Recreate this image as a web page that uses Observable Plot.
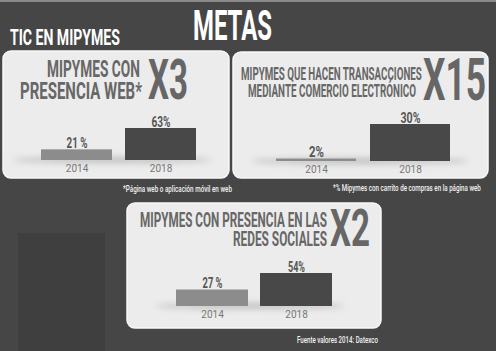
<!DOCTYPE html>
<html>
<head>
<meta charset="utf-8">
<script src="https://cdn.jsdelivr.net/npm/d3@7"></script>
<script src="https://cdn.jsdelivr.net/npm/@observablehq/plot@0.6"></script>
<style>
  html, body { margin: 0; padding: 0; background: #464646; }
  #root { position: relative; width: 496px; height: 351px; overflow: hidden; background: #464646; }
  #root > svg.bg { position: absolute; left: 0; top: 0; }
  .chart { position: absolute; }
</style>
</head>
<body>
<div id="root"></div>
<script>
// ---- data ----
const years = ["2014", "2018"];
const webValues = [21, 63];
const webLabels = ["21 %", "63%"];
const ecomValues = [2, 30];
const ecomLabels = ["2%", "30%"];
const socialValues = [27, 54];
const socialLabels = ["27 %", "54%"];

const headerTitle = "METAS";
const sectionTitle = "TIC EN MIPYMES";
const webTitle = ["MIPYMES CON", "PRESENCIA WEB*"];
const webFactor = "X3";
const ecomTitle = ["MIPYMES QUE HACEN TRANSACCIONES", "MEDIANTE COMERCIO ELECTRÓNICO"];
const ecomFactor = "X15";
const socialTitle = ["MIPYMES CON PRESENCIA EN LAS", "REDES SOCIALES"];
const socialFactor = "X2";
const webNote = "*Página web o aplicación móvil en web";
const ecomNote = "*% Mipymes con carrito de compras en la página web";
const sourceNote = "Fuente valores 2014: Datexco";

const yearColors = ["#8c8c8c", "#484848"];

// ---- layout (background, panels, headings) ----
const root = d3.select("#root");
const bg = root.append("svg").attr("class", "bg").attr("width", 496).attr("height", 351);
const defs = bg.append("defs");
defs.append("filter").attr("id", "blur").attr("x", "-20%").attr("y", "-200%").attr("width", "140%").attr("height", "500%")
  .append("feGaussianBlur").attr("stdDeviation", 3);

bg.append("rect").attr("width", 496).attr("height", 351).attr("fill", "#464646");
bg.append("rect").attr("width", 496).attr("height", 2).attr("fill", "#8a8a8a");
bg.append("rect").attr("x", 18).attr("y", 233).attr("width", 87).attr("height", 118).attr("fill", "#3f3f3f");

const panels = [
  {x: 3, y: 51, w: 226, h: 127},
  {x: 233, y: 52, w: 255, h: 126},
  {x: 127, y: 203, w: 254, h: 125}
];
panels.forEach(p => {
  bg.append("rect").attr("x", p.x).attr("y", p.y).attr("width", p.w).attr("height", p.h)
    .attr("rx", 8).attr("fill", "#ececec").attr("stroke", "#f7f7f7").attr("stroke-width", 1.5);
});
// soft shadows under bars
[[112, 160, 100], [360, 161, 110], [250, 306, 95]].forEach(([cx, cy, rx]) => {
  bg.append("ellipse").attr("cx", cx).attr("cy", cy).attr("rx", rx).attr("ry", 3)
    .attr("fill", "#9a9a9a").attr("opacity", 0.55).attr("filter", "url(#blur)");
});

function txt(s, x, y, len, size, color, opts = {}) {
  const t = bg.append("text")
    .attr("font-family", opts.family || "Roboto, 'Liberation Sans', sans-serif")
    .attr("font-weight", opts.weight || 700)
    .attr("font-size", size)
    .attr("fill", color)
    .text(s);
  const node = t.node();
  const natural = node.getComputedTextLength();
  const sx = natural > 0 ? len / natural : 1;
  node.setAttribute("transform", `translate(${x},${y}) scale(${sx},1)`);
}
const grayText = "#676767";
txt(headerTitle, 193, 40, 79, 42.5, "#ffffff");
txt(sectionTitle, 10, 45, 110, 22.5, "#ffffff");

txt(webTitle[0], 47, 77, 93, 24, grayText);
txt(webTitle[1], 20, 99, 122, 24, grayText);
txt(webFactor, 148, 99, 40, 55, "#666666");

txt(ecomTitle[0], 241, 80, 181, 17.6, grayText);
txt(ecomTitle[1], 248, 97, 168, 17.6, grayText);
txt(ecomFactor, 423, 100, 63, 59, "#666666");

txt(socialTitle[0], 140, 227, 187, 21, grayText);
txt(socialTitle[1], 233, 246, 94, 21, grayText);
txt(socialFactor, 330, 246, 40, 51, "#666666");

txt(webNote, 123, 192, 109, 9.5, "#f2f2f2", {weight: 500});
txt(ecomNote, 333, 191, 148, 9.5, "#f2f2f2", {weight: 500});
txt(sourceNote, 297, 343, 81, 9.5, "#f2f2f2", {weight: 500});

// ---- bar charts ----
function barChart({values, labels, left, top, width, height, mL, mR, mT, mB, pad, labelLens}) {
  const data = years.map((year, i) => ({year, value: values[i], label: labels[i]}));
  const chart = Plot.plot({
    width, height,
    marginLeft: mL, marginRight: mR, marginTop: mT, marginBottom: mB,
    x: {domain: years, paddingInner: pad, paddingOuter: 0, tickSize: 0, tickPadding: 4, label: null},
    y: {domain: [0, d3.max(values)], axis: null},
    color: {domain: years, range: yearColors},
    style: {background: "transparent", fontFamily: "Roboto, sans-serif", fontSize: "10px", color: "#777777", overflow: "visible"},
    marks: [
      Plot.barY(data, {x: "year", y: "value", fill: "year"}),
      Plot.text(data, {x: "year", y: "value", text: "label", lineAnchor: "bottom", dy: -2,
        fontFamily: "Roboto, sans-serif", fontWeight: 700, fontSize: 15, fill: "#555555"})
    ]
  });
  chart.classList.add("chart");
  chart.style.left = left + "px";
  chart.style.top = top + "px";
  chart.style.position = "absolute";
  document.getElementById("root").appendChild(chart);
  // condense the value labels horizontally, keeping Plot's own positioning
  d3.select(chart).selectAll('g[aria-label="text"] text').each(function(d, i) {
    const natural = this.getComputedTextLength();
    const sx = natural > 0 ? labelLens[i] / natural : 1;
    let tr = this.getAttribute("transform") || "";
    const ax = this.getAttribute("x"), ay = this.getAttribute("y");
    if (ax !== null || ay !== null) {
      tr = `translate(${+ax || 0},${+ay || 0}) ` + tr;
      this.removeAttribute("x");
      this.removeAttribute("y");
    }
    this.setAttribute("transform", `${tr} scale(${sx},1)`.trim());
  });
}

barChart({values: webValues, labels: webLabels, left: 3, top: 105, width: 226, height: 73,
  mL: 37, mR: 32, mT: 23, mB: 18, pad: 0.15, labelLens: [21, 19]});
barChart({values: ecomValues, labels: ecomLabels, left: 233, top: 105, width: 255, height: 73,
  mL: 42, mR: 37, mT: 19, mB: 17, pad: 0.147, labelLens: [15, 20]});
barChart({values: socialValues, labels: socialLabels, left: 127, top: 255, width: 254, height: 73,
  mL: 49, mR: 49, mT: 18, mB: 22, pad: 0.143, labelLens: [20, 17]});
</script>
</body>
</html>
